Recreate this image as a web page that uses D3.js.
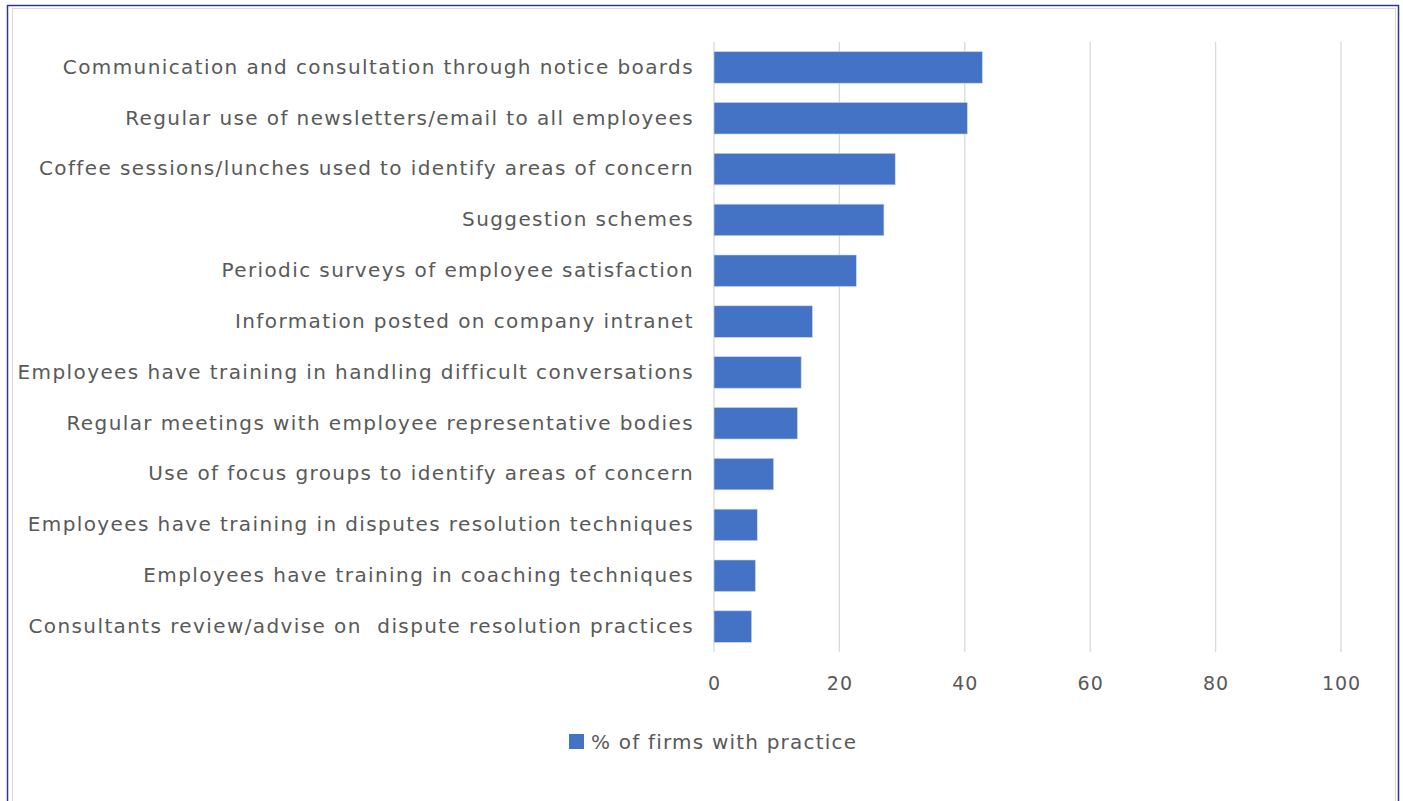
<!DOCTYPE html>
<html>
<head>
<meta charset="utf-8">
<script src="https://cdn.jsdelivr.net/npm/d3@7"></script>
<style>
  html, body { margin: 0; padding: 0; background: #fff; }
  svg { display: block; }
</style>
</head>
<body>
<svg id="chart" width="1403" height="801"></svg>
<script>
const categories = [
  "Communication and consultation through notice boards",
  "Regular use of newsletters/email to all employees",
  "Coffee sessions/lunches used to identify areas of concern",
  "Suggestion schemes",
  "Periodic surveys of employee satisfaction",
  "Information posted on company intranet",
  "Employees have training in handling difficult conversations",
  "Regular meetings with employee representative bodies",
  "Use of focus groups to identify areas of concern",
  "Employees have training in disputes resolution techniques",
  "Employees have training in coaching techniques",
  "Consultants review/advise on  dispute resolution practices"
];
const values = [42.8, 40.4, 28.9, 27.1, 22.7, 15.7, 13.9, 13.3, 9.5, 6.9, 6.6, 6.0];
const xTicks = [0, 20, 40, 60, 80, 100];
const seriesName = "% of firms with practice";

const svg = d3.select("#chart");
const FONT = "'DejaVu Sans', Verdana, sans-serif";
const FS = 20;
const LS = "1.4px";
const TEXT = "#595959";
const BAR = "#4472C4";

// frame
svg.append("rect").attr("x", 7.5).attr("y", 5.5).attr("width", 1391).attr("height", 820)
  .attr("fill", "#fff").attr("stroke", "#2E3A87").attr("stroke-width", 1.5);
svg.append("rect").attr("x", 12.5).attr("y", 8.5).attr("width", 1383).attr("height", 820)
  .attr("fill", "none").attr("stroke", "#D9D9D9").attr("stroke-width", 1);

const plot = { left: 714, right: 1341, top: 42, bottom: 652 };

const x = d3.scaleLinear().domain([0, 100]).range([plot.left, plot.right]);
const y = d3.scaleBand().domain(categories).range([plot.top, plot.bottom]).paddingInner(0.38).paddingOuter(0.19);

// gridlines
svg.append("g").selectAll("line").data(xTicks).join("line")
  .attr("x1", d => x(d)).attr("x2", d => x(d))
  .attr("y1", plot.top).attr("y2", plot.bottom)
  .attr("stroke", "#D9D9D9").attr("stroke-width", 1.3);

// bars
svg.append("g").selectAll("rect").data(values).join("rect")
  .attr("x", x(0))
  .attr("y", (d, i) => y(categories[i]))
  .attr("width", d => x(d) - x(0))
  .attr("height", y.bandwidth())
  .attr("fill", BAR)
  .attr("stroke", "#c8d6ef").attr("stroke-width", 0.6);

// x axis
const xAxis = d3.axisBottom(x).tickValues(xTicks).tickSize(0).tickPadding(0);
const gx = svg.append("g").attr("transform", `translate(0, ${plot.bottom + 24})`).call(xAxis);
gx.select(".domain").remove();
gx.selectAll("text").attr("fill", TEXT).attr("font-family", FONT).attr("font-size", FS - 1)
  .attr("letter-spacing", "1px").attr("dy", "0.71em");

// y axis
const yAxis = d3.axisLeft(y).tickSize(0).tickPadding(20);
const gy = svg.append("g").attr("transform", `translate(${plot.left}, 0)`).call(yAxis);
gy.select(".domain").remove();
gy.selectAll("text").attr("fill", TEXT).attr("font-family", FONT).attr("font-size", FS)
  .attr("letter-spacing", LS).style("white-space", "pre");

// legend
const lg = svg.append("g").attr("transform", "translate(569, 734)");
lg.append("rect").attr("width", 15).attr("height", 15).attr("fill", BAR);
lg.append("text").attr("x", 22).attr("y", 7.5).attr("dy", "0.35em")
  .attr("fill", TEXT).attr("font-family", FONT).attr("font-size", FS)
  .attr("letter-spacing", "1.2px").text(seriesName);
</script>
</body>
</html>
